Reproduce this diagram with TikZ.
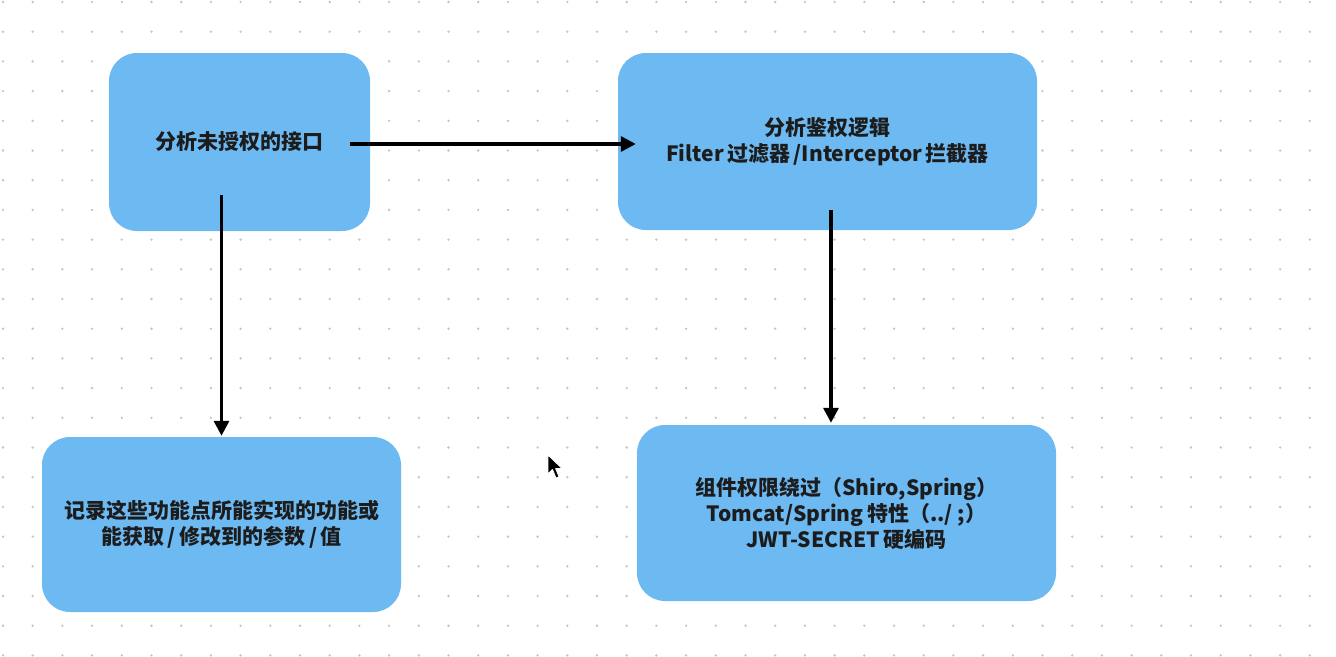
\documentclass[tikz,border=0pt]{standalone}
\usepackage{fontspec}
\newfontfamily\cjk{Noto Sans CJK SC}
\usetikzlibrary{arrows.meta}
\definecolor{boxblue}{HTML}{6DB9F2}
\definecolor{txt}{HTML}{1C1C1C}
\definecolor{dotc}{HTML}{C4C4C4}
\tikzset{
  card/.style={fill=boxblue, draw=none, rounded corners=28pt, inner sep=0pt,
    align=center, text=txt, font=\cjk\bfseries\fontsize{21}{26}\selectfont},
  arr/.style={line width=3.2pt, draw=black, -{Triangle[length=15pt,width=15pt]}},
}
\begin{document}
\begin{tikzpicture}[x=1pt,y=-1pt]
\useasboundingbox (0,0) rectangle (1336,656);
\fill[white] (0,0) rectangle (1336,656);
% dot grid
\foreach \i in {0,...,44} {
  \foreach \j in {0,...,22} {
    \fill[dotc] ({3+29.7*\i},{2+29.7*\j}) circle (1.3);
  }
}
\node[card, minimum width=261pt, minimum height=178pt] (A) at (239.5,142) {分析未授权的接口};
\node[card, minimum width=419pt, minimum height=177pt] (B) at (827.5,141.5) {分析鉴权逻辑\\Filter\,过滤器\,/Interceptor\,拦截器};
\node[card, minimum width=359pt, minimum height=175pt] (C) at (221.5,524.5) {记录这些功能点所能实现的功能或\\能获取\,/\,修改到的参数\,/\,值};
\node[card, minimum width=419pt, minimum height=176pt] (D) at (846.5,513) {组件权限绕过（Shiro,Spring）\\Tomcat/Spring\,特性（../ ;）\\JWT-SECRET\,硬编码};
% connectors
\draw[arr, shorten <=-20pt, shorten >=-18pt] ([yshift=-2pt]A.east) -- ([yshift=-2.5pt]B.west);
\draw[arr, shorten <=-36pt, shorten >=1pt] (A.south -| C.north) -- (C.north);
\draw[arr, shorten <=-20pt, shorten >=2pt] ([xshift=3.5pt]B.south) -- ([xshift=3.5pt]B.south |- D.north);
% mouse pointer
\filldraw[black, draw=white, line width=0.8pt, line join=round]
  (548,455) -- (548,474) -- (552.5,469.5) -- (556,478) -- (559,476.8) -- (555.6,468.5) -- (562,468.5) -- cycle;
\end{tikzpicture}
\end{document}
